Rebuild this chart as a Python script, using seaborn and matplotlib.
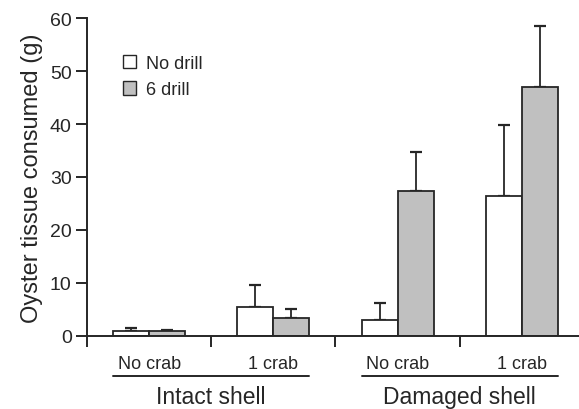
import pandas as pd
import matplotlib
matplotlib.use("Agg")
import matplotlib.pyplot as plt
import matplotlib.transforms as mtransforms
from matplotlib.patches import Patch
import seaborn as sns

# Données
crab = ["No crab", "1 crab", "No crab", "1 crab"]
shell = ["Intact shell", "Damaged shell"]
no_drill = [0.8, 5.4, 3.0, 26.4]
no_drill_top = [1.4, 9.5, 6.2, 39.8]
six_drill = [0.8, 3.3, 27.3, 47.1]
six_drill_top = [1.1, 5.1, 34.8, 58.5]
y_ticks = [0, 10, 20, 30, 40, 50, 60]

groupes = ["g0", "g1", "g2", "g3"]
df = pd.DataFrame({
    "groupe": groupes * 2,
    "traitement": ["No drill"] * 4 + ["6 drill"] * 4,
    "valeur": no_drill + six_drill,
    "haut": no_drill_top + six_drill_top,
})

sns.set_style("ticks")
plt.rcParams["font.family"] = ["Liberation Sans", "DejaVu Sans"]
encre = "#262626"

fig = plt.figure(figsize=(5.79, 4.10), dpi=100)
ax = fig.add_axes([87 / 579, 73.3 / 410, 492 / 579, 317.4 / 410])

sns.barplot(data=df, x="groupe", y="valeur", hue="traitement", order=groupes,
            hue_order=["No drill", "6 drill"], palette=["white", "#c0c0c0"],
            width=0.58, gap=0, edgecolor=encre, linewidth=1.3, errorbar=None,
            legend=False, ax=ax)

# Barres d'erreur (partie supérieure seulement), à partir des barres dessinées
barres = [p for p in ax.patches if p.get_height() > 0]
for p, (_, ligne) in zip(barres, df.iterrows()):
    xc = p.get_x() + p.get_width() / 2
    ax.errorbar([xc], [ligne["valeur"]], yerr=[[0], [ligne["haut"] - ligne["valeur"]]],
                fmt="none", ecolor=encre, elinewidth=1.3, capsize=4.5, capthick=1.6,
                zorder=1)
for p in barres:
    p.set_zorder(2)

ax.set_xlim(-0.5, 3.46)
ax.set_ylim(0, 60)
ax.set_yticks(y_ticks)
ax.set_xticks([-0.5, 0.5, 1.5, 2.5])
ax.set_xticklabels([])
ax.set_xticks(range(4), minor=True)
ax.set_xticklabels(crab, minor=True, fontsize=13)
ax.tick_params(axis="x", which="minor", length=0, pad=14, colors=encre)
ax.tick_params(axis="x", which="major", length=8, width=1.4, color=encre)
ax.tick_params(axis="y", length=8, width=1.4, color=encre, labelsize=14,
               labelcolor=encre, pad=3)
ax.set_xlabel("")
ax.set_ylabel("Oyster tissue consumed (g)", fontsize=17, color=encre, labelpad=5)
for cote in ["left", "bottom"]:
    ax.spines[cote].set_linewidth(1.4)
    ax.spines[cote].set_color(encre)
sns.despine(ax=ax)

# Lignes et étiquettes de groupe sous l'axe
trans = mtransforms.blended_transform_factory(ax.transData, ax.transAxes)
for i, nom in enumerate(shell):
    g = barres[2 * i]
    d = barres[4 + 2 * i + 1]
    x0 = g.get_x()
    x1 = d.get_x() + d.get_width()
    ax.plot([x0, x1], [-0.126, -0.126], transform=trans, color=encre, lw=1.4,
            clip_on=False)
    ax.text((x0 + x1) / 2, -0.192, nom, transform=trans, ha="center", va="center",
            fontsize=16.5, color=encre)

poignees = [Patch(facecolor="white", edgecolor=encre, linewidth=1.0, label="No drill"),
            Patch(facecolor="#c0c0c0", edgecolor=encre, linewidth=1.0, label="6 drill")]
ax.legend(handles=poignees, loc="upper left", bbox_to_anchor=(0.04, 0.935), frameon=False,
          fontsize=13, handlelength=0.75, handleheight=0.75, handletextpad=0.55,
          labelspacing=0.5)

fig.savefig("out.png", dpi=100)
